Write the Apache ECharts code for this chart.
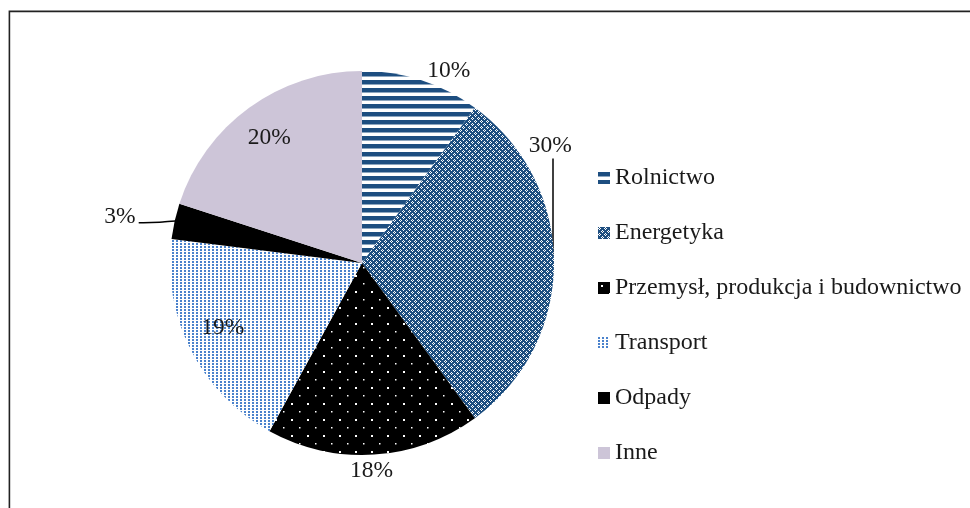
<!DOCTYPE html>
<html>
<head>
<meta charset="utf-8">
<script src="https://cdn.jsdelivr.net/npm/echarts@6/dist/echarts.min.js"></script>
<style>
html,body{margin:0;padding:0;background:#fff;}
#main{width:970px;height:508px;}
</style>
</head>
<body>
<div id="main"></div>
<script>
// ---- data ----
const categories = ['Rolnictwo', 'Energetyka', 'Przemysł, produkcja i budownictwo', 'Transport', 'Odpady', 'Inne'];
const values = [10, 30, 18, 19, 3, 20];

// ---- styling (label placement, relative to slice mid-angle) ----
const labelAngleShift = [6.3, -32, 1, 2, -1.8, -0.6];
const labelRadiusFrac = [1.10, 1.156, 1.084, 0.80, 1.283, 0.81];
const CX = 362, CY = 263, R = 192;
const FONT = '"Liberation Serif", "Times New Roman", serif';

function makeCanvas(w, h, draw) {
  const c = document.createElement('canvas');
  c.width = w; c.height = h;
  const ctx = c.getContext('2d');
  draw(ctx, w, h);
  return c;
}
const BLUE = '#1d4e80';
const patStripes = makeCanvas(8, 8, (ctx, w, h) => {
  ctx.fillStyle = '#fff'; ctx.fillRect(0, 0, w, h);
  ctx.fillStyle = BLUE; ctx.fillRect(0, 0, w, 4.5);
});
const patDiamond = makeCanvas(6, 6, (ctx, w, h) => {
  ctx.fillStyle = BLUE; ctx.fillRect(0, 0, w, h);
  ctx.fillStyle = '#fff';
  [[1,0],[0,1],[2,1],[1,2],[4,3],[3,4],[5,4],[4,5]].forEach(p => ctx.fillRect(p[0], p[1], 1, 1));
});
const patDots = makeCanvas(16, 16, (ctx, w, h) => {
  ctx.fillStyle = '#000'; ctx.fillRect(0, 0, w, h);
  ctx.fillStyle = '#fff';
  ctx.fillRect(3, 3, 2, 2);
  ctx.fillRect(11, 11, 1.5, 1.5);
});
const patLight = makeCanvas(4, 3, (ctx, w, h) => {
  ctx.fillStyle = '#fff'; ctx.fillRect(0, 0, w, h);
  ctx.fillStyle = '#4a82cc'; ctx.fillRect(0, 0, 2, 2);
});
const fills = [
  { image: patStripes, repeat: 'repeat' },
  { image: patDiamond, repeat: 'repeat' },
  { image: patDots, repeat: 'repeat' },
  { image: patLight, repeat: 'repeat' },
  '#000000',
  '#cdc5d8'
];
const showLine = [false, true, false, false, true, false];

const total = values.reduce((a, b) => a + b, 0);
const midAngles = [];
(function () {
  let acc = 0;
  values.forEach(v => { midAngles.push((acc + v / 2) / total * 360); acc += v; });
})();

const chart = echarts.init(document.getElementById('main'), null, { renderer: 'canvas' });
chart.setOption({
  animation: false,
  backgroundColor: '#fff',
  graphic: [{
    type: 'rect',
    shape: { x: 9.4, y: 11.4, width: 1000, height: 600 },
    style: { fill: 'none', stroke: '#222', lineWidth: 1.6 },
    silent: true
  }],
  legend: {
    orient: 'vertical',
    left: 598,
    top: 166,
    padding: 0,
    itemWidth: 12,
    itemHeight: 12,
    itemGap: 31,
    icon: 'rect',
    textStyle: { fontFamily: FONT, fontSize: 24, color: '#1a1a1a', lineHeight: 24 },
    data: categories
  },
  series: [{
    type: 'pie',
    center: [CX, CY],
    radius: R,
    startAngle: 90,
    clockwise: true,
    avoidLabelOverlap: false,
    data: categories.map((c, i) => ({
      name: c,
      value: values[i],
      itemStyle: { color: fills[i] },
      labelLine: { show: showLine[i], smooth: i === 4 ? 0.3 : false, lineStyle: { color: '#000', width: 1.5 } }
    })),
    label: {
      show: true,
      position: 'outside',
      formatter: '{c}%',
      fontFamily: FONT,
      fontSize: 23.5,
      color: '#1a1a1a'
    },
    labelLine: { show: false },
    labelLayout: function (p) {
      const i = p.dataIndex;
      const a = (midAngles[i] + labelAngleShift[i]) * Math.PI / 180;
      const rr = R * labelRadiusFrac[i];
      const lx = CX + rr * Math.sin(a);
      const ly = CY - rr * Math.cos(a);
      const res = { x: lx, y: ly, align: 'center', verticalAlign: 'middle' };
      const ma = midAngles[i] * Math.PI / 180;
      const ex = CX + R * Math.sin(ma), ey = CY - R * Math.cos(ma);
      if (i === 1) {
        res.labelLinePoints = [[ex - 1, ey - 7], [ex - 1, ey - 50], [ex - 1, ly + 13]];
      } else if (i === 4) {
        const w = p.labelRect.width;
        res.labelLinePoints = [[ex + 1, ey], [ex - 12, ey + 1], [lx + w / 2 + 3, ly + 6]];
      }
      return res;
    }
  }]
});
</script>
</body>
</html>
